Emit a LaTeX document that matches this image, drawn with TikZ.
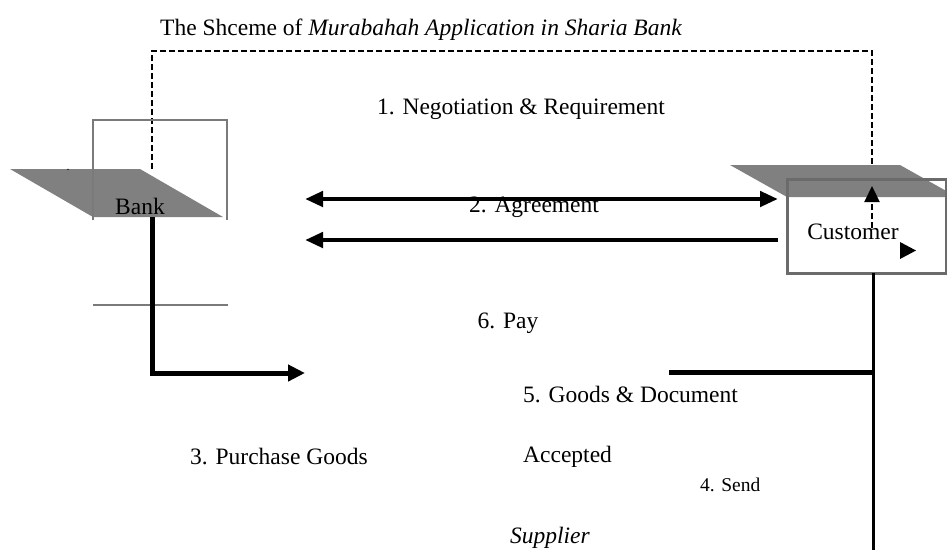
\documentclass[tikz,border=0pt]{standalone}
\usepackage{fontspec}
\setmainfont{Liberation Serif}
\usetikzlibrary{arrows.meta}
\definecolor{greyfill}{HTML}{808080}
\definecolor{boxline}{HTML}{7A7A7A}
\definecolor{custline}{HTML}{6B6B6B}
\begin{document}
\begin{tikzpicture}[x=1pt,y=-1pt,
  lbl/.style={font=\fontsize{23.5}{28}\selectfont,inner sep=0pt},
  smalllbl/.style={font=\fontsize{19.5}{24}\selectfont,inner sep=0pt},
  thickline/.style={line width=4.6pt},
  headtip/.style={-{Triangle[length=18pt,width=15pt]}},
  flow/.style={dash pattern=on 6pt off 3pt,line width=2.3pt}]
\useasboundingbox[fill=white] (0,0) rectangle (947,550);

% title
\node[lbl,anchor=base west] (title) at (160,35) {The Shceme of \textit{Murabahah Application in Sharia Bank}};

% dashed flow (behind shapes)
\coordinate (dA) at (152,169);
\coordinate (dB) at (152,51);
\coordinate (dC) at (872,51);
\coordinate (dD) at (872,165);
\draw[flow] (dA) -- (dB) -- (dC) -- (dD);

% Bank
\fill[greyfill] (10,169) -- (140,169) -- (223,217) -- (93,217) -- cycle;
\draw[boxline,line width=1.8pt] (93,220) -- (93,120) -- (227,120) -- (227,220);
\draw[boxline,line width=1.8pt] (93,305) -- (228,305);
\node[lbl] (bank) at (140,206) {Bank};
\node[font=\fontsize{12}{12}\selectfont,inner sep=0pt] (dot) at (68,170) {.};

% Customer
\fill[greyfill] (730,165) -- (900,165) -- (957,197) -- (787,197) -- cycle;
\draw[custline,line width=3pt] (787,179) rectangle (946,273);
\node[lbl] (customer) at (853,232) {Customer};
\coordinate (cu1) at (872,228);
\coordinate (cu2) at (872,186);
\draw[flow,-{Triangle[length=16pt,width=15pt]}] (cu1) -- (cu2);
\fill (900,242) -- (900,259) -- (916,250.5) -- cycle;

% agreement arrows
\coordinate (a1) at (305,199);
\coordinate (a2) at (778,199);
\coordinate (b1) at (778,240);
\coordinate (b2) at (305,240);
\draw[thickline,{Triangle[length=18pt,width=15pt]}-{Triangle[length=18pt,width=15pt]}] (a1) -- (a2);
\draw[thickline,headtip] (b1) -- (b2);

% bank to supplier
\coordinate (p1) at (152,217);
\coordinate (p2) at (152,373);
\coordinate (p3) at (305,373);
\draw[line width=5pt,-{Triangle[length=17pt,width=16pt]}] (p1) -- (p2) -- (p3);

% customer side lines
\coordinate (c1) at (873,273);
\coordinate (c2) at (873,550);
\coordinate (h1) at (669,372);
\coordinate (h2) at (874,372);
\draw[line width=3pt] (c1) -- (c2);
\draw[line width=5pt] (h1) -- (h2);

% labels
\node[lbl] (l1) at (521,109) {1. Negotiation \& Requirement};
\node[lbl] (l2) at (534,207) {2. Agreement};
\node[lbl] (l6) at (508,323) {6. Pay};
\node[lbl,anchor=west] (l5) at (523,395) {5. Goods \& Document};
\node[lbl,anchor=west] (l3) at (190,457) {3. Purchase Goods};
\node[lbl,anchor=west] (l5b) at (523,457) {Accepted};
\node[smalllbl,anchor=west] (l4) at (700,485) {4. Send};
\node[lbl] (sup) at (550,538) {\textit{Supplier}};
\end{tikzpicture}
\end{document}
